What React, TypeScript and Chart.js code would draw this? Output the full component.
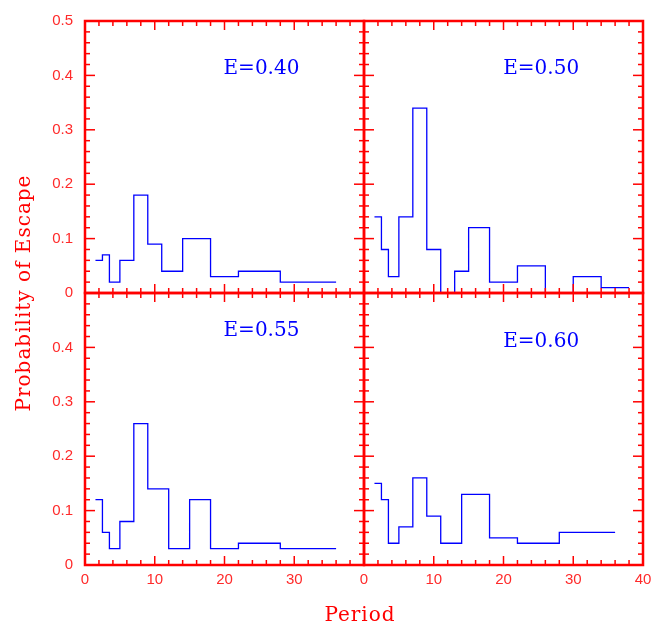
import React, { useEffect, useRef } from 'react';
import { Chart, registerables } from 'chart.js';

Chart.register(...registerables);

// ---- data ----
const yTickLabels = ['0', '0.1', '0.2', '0.3', '0.4', '0.5'];
const xTickLabels = ['0', '10', '20', '30', '40'];

const periodEdges040 = [1.5, 2.5, 3.5, 5, 7, 9, 11, 14, 18, 22, 28, 36];
const prob040 = [0.06, 0.07, 0.02, 0.06, 0.18, 0.09, 0.04, 0.10, 0.03, 0.04, 0.02];

const periodEdges050 = [1.5, 2.5, 3.5, 5, 7, 9, 11, 13, 15, 18, 22, 26, 30, 34, 38];
const prob050 = [0.14, 0.08, 0.03, 0.14, 0.34, 0.08, 0, 0.04, 0.12, 0.02, 0.05, 0, 0.03, 0.01];

const periodEdges055 = [1.5, 2.5, 3.5, 5, 7, 9, 12, 15, 18, 22, 28, 36];
const prob055 = [0.12, 0.06, 0.03, 0.08, 0.26, 0.14, 0.03, 0.12, 0.03, 0.04, 0.03];

const periodEdges060 = [1.5, 2.5, 3.5, 5, 7, 9, 11, 14, 18, 22, 28, 36];
const prob060 = [0.15, 0.12, 0.04, 0.07, 0.16, 0.09, 0.04, 0.13, 0.05, 0.04, 0.06];

const panelLabels = ['E=0.40', 'E=0.50', 'E=0.55', 'E=0.60'];
const yTitle = 'Probability of Escape';
const xTitle = 'Period';

const RED = '#ff0000';
const TICK_RED = '#ff2a2a';
const BLUE = '#0000ff';

const panels = [
  { label: panelLabels[0], edges: periodEdges040, probs: prob040, xAxis: 'x1', yAxis: 'yT', lx: 25.3, ly: 0.412 },
  { label: panelLabels[1], edges: periodEdges050, probs: prob050, xAxis: 'x2', yAxis: 'yT', lx: 25.4, ly: 0.412 },
  { label: panelLabels[2], edges: periodEdges055, probs: prob055, xAxis: 'x1', yAxis: 'yB', lx: 25.3, ly: 0.43 },
  { label: panelLabels[3], edges: periodEdges060, probs: prob060, xAxis: 'x2', yAxis: 'yB', lx: 25.4, ly: 0.41 },
];

function stepPoints(edges: number[], probs: number[]) {
  const pts = probs.map((p, i) => ({ x: edges[i], y: p }));
  pts.push({ x: edges[edges.length - 1], y: probs[probs.length - 1] });
  return pts;
}

const framePlugin = {
  id: 'framePlugin',
  afterDatasetsDraw(chart: any) {
    const ctx = chart.ctx as CanvasRenderingContext2D;
    const seg = (x1: number, y1: number, x2: number, y2: number) => {
      ctx.beginPath();
      ctx.moveTo(x1, y1);
      ctx.lineTo(x2, y2);
      ctx.stroke();
    };
    for (const p of panels) {
      const xs = chart.scales[p.xAxis];
      const ys = chart.scales[p.yAxis];
      const l = xs.left, r = xs.right, t = ys.top, b = ys.bottom;
      ctx.save();
      ctx.strokeStyle = RED;
      ctx.lineWidth = 1.5;
      for (let k = 1; k < 20; k++) {
        const v = k * 2;
        const px = xs.getPixelForValue(v);
        const len = k % 5 === 0 ? 9 : 5;
        seg(px, b, px, b - len);
        seg(px, t, px, t + len);
      }
      for (let k = 1; k < 25; k++) {
        const py = ys.getPixelForValue(k * 0.02);
        const len = k % 5 === 0 ? 10 : 5;
        seg(l, py, l + len, py);
        seg(r, py, r - len, py);
      }
      ctx.lineWidth = 2.5;
      ctx.strokeRect(l, t, r - l, b - t);
      ctx.fillStyle = BLUE;
      ctx.font = '20px "DejaVu Serif"';
      ctx.textAlign = 'center';
      ctx.textBaseline = 'middle';
      ctx.fillText(p.label, xs.getPixelForValue(p.lx), ys.getPixelForValue(p.ly));
      ctx.restore();
    }
    // axis titles
    const ca = chart.chartArea;
    ctx.save();
    ctx.fillStyle = RED;
    ctx.font = '20px "DejaVu Serif"';
    (ctx as any).letterSpacing = '1px';
    ctx.textAlign = 'center';
    ctx.textBaseline = 'middle';
    ctx.fillText(xTitle, (ca.left + ca.right) / 2 - 4, 616);
    ctx.translate(25, (ca.top + ca.bottom) / 2);
    ctx.rotate(-Math.PI / 2);
    ctx.fillText(yTitle, 0, 0);
    ctx.restore();
  },
};

export default function App() {
  const ref = useRef<HTMLCanvasElement | null>(null);

  useEffect(() => {
    if (!ref.current) return;
    const tickFont = { family: '"Liberation Sans", Arial, sans-serif', size: 15 };
    const yAxis = (weight: number, hideTop: boolean) => ({
      type: 'linear',
      position: 'left',
      stack: 'ystack',
      stackWeight: 1,
      weight,
      min: 0,
      max: 0.5,
      grid: { display: false, drawTicks: false },
      border: { display: false },
      ticks: {
        stepSize: 0.1,
        color: TICK_RED,
        font: tickFont,
        padding: 12,
        callback: (_v: any, i: number) => (hideTop && i === yTickLabels.length - 1 ? null : yTickLabels[i]),
      },
      afterFit: (s: any) => { s.width = 85; },
    });
    const xAxis = (weight: number, hideLast: boolean) => ({
      type: 'linear',
      position: 'bottom',
      stack: 'xstack',
      stackWeight: 1,
      weight,
      min: 0,
      max: 40,
      grid: { display: false, drawTicks: false },
      border: { display: false },
      ticks: {
        stepSize: 10,
        color: TICK_RED,
        font: tickFont,
        padding: 6,
        maxRotation: 0,
        autoSkip: false,
        callback: (_v: any, i: number) => (hideLast && i === xTickLabels.length - 1 ? null : xTickLabels[i]),
      },
      afterFit: (s: any) => { s.height = 65; },
    });

    const chart = new Chart(ref.current, {
      type: 'line',
      data: {
        datasets: panels.map((p) => ({
          label: p.label,
          data: stepPoints(p.edges, p.probs),
          xAxisID: p.xAxis,
          yAxisID: p.yAxis,
          stepped: 'before',
          borderColor: BLUE,
          borderWidth: 1.3,
          pointRadius: 0,
          fill: false,
        })),
      },
      options: {
        responsive: false,
        animation: false,
        devicePixelRatio: 1,
        parsing: false,
        layout: { padding: { top: 7, right: 15, left: 0, bottom: 0 } },
        plugins: { legend: { display: false }, tooltip: { enabled: false }, title: { display: false } },
        scales: {
          x1: xAxis(0, true),
          x2: xAxis(1, false),
          yT: yAxis(1, false),
          yB: yAxis(0, true),
        } as any,
      },
      plugins: [framePlugin],
    } as any);
    return () => chart.destroy();
  }, []);

  return (
    <div style={{ position: 'absolute', left: 0, top: 0, width: 658, height: 630, background: '#fff' }}>
      <canvas ref={ref} width={658} height={630} style={{ width: 658, height: 630, display: 'block' }} />
    </div>
  );
}
